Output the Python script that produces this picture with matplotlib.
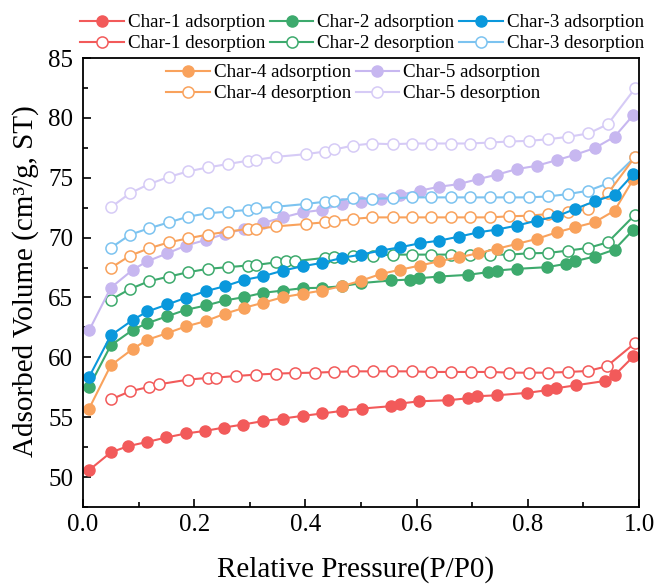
import numpy as np
import matplotlib
matplotlib.use('Agg')
import matplotlib.pyplot as plt
from matplotlib.ticker import MultipleLocator

plt.rcParams['font.family'] = ['Liberation Serif', 'DejaVu Serif']

# Relative pressure for the adsorption branches (Char-3, 4, 5)
x_ads = [0.011, 0.050, 0.090, 0.116, 0.152, 0.185, 0.221, 0.255, 0.290, 0.324,
         0.360, 0.395, 0.430, 0.466, 0.500, 0.536, 0.570, 0.606, 0.641, 0.676,
         0.711, 0.744, 0.780, 0.816, 0.852, 0.885, 0.920, 0.956, 0.990]
# Relative pressure for the desorption branches (Char-3, 4, 5)
x_des = [0.050, 0.085, 0.119, 0.155, 0.189, 0.224, 0.260, 0.296, 0.312, 0.348,
         0.401, 0.435, 0.452, 0.486, 0.519, 0.557, 0.591, 0.626, 0.661, 0.696,
         0.732, 0.767, 0.802, 0.837, 0.873, 0.909, 0.944, 0.993]

# Char-1
x1a = [0.011, 0.050, 0.081, 0.116, 0.150, 0.185, 0.220, 0.254, 0.288, 0.323,
       0.359, 0.395, 0.430, 0.466, 0.501, 0.554, 0.570, 0.605, 0.657, 0.692,
       0.708, 0.744, 0.798, 0.834, 0.851, 0.887, 0.939, 0.956, 0.990]
y1a = [50.58, 52.06, 52.58, 52.94, 53.31, 53.64, 53.86, 54.14, 54.39, 54.67,
       54.89, 55.11, 55.31, 55.53, 55.72, 55.92, 56.14, 56.33, 56.42, 56.58,
       56.75, 56.83, 57.03, 57.25, 57.42, 57.67, 58.03, 58.50, 60.08]
x1d = [0.050, 0.085, 0.119, 0.137, 0.189, 0.224, 0.240, 0.275, 0.312, 0.347,
       0.381, 0.417, 0.451, 0.486, 0.521, 0.556, 0.591, 0.626, 0.662, 0.698,
       0.732, 0.767, 0.802, 0.837, 0.873, 0.908, 0.942, 0.993]
y1d = [56.48, 57.17, 57.53, 57.75, 58.14, 58.28, 58.31, 58.44, 58.56, 58.64,
       58.69, 58.72, 58.78, 58.83, 58.83, 58.83, 58.83, 58.78, 58.78, 58.78,
       58.78, 58.72, 58.72, 58.72, 58.78, 58.86, 59.25, 61.20]

# Char-2
x2a = [0.011, 0.050, 0.090, 0.116, 0.152, 0.185, 0.221, 0.255, 0.290, 0.324,
       0.360, 0.395, 0.430, 0.466, 0.500, 0.554, 0.588, 0.605, 0.641, 0.692,
       0.728, 0.744, 0.780, 0.834, 0.869, 0.885, 0.920, 0.956, 0.990]
y2a = [57.53, 61.00, 62.31, 62.86, 63.44, 63.97, 64.33, 64.75, 65.03, 65.39,
       65.58, 65.78, 65.81, 65.94, 66.20, 66.42, 66.50, 66.61, 66.75, 66.89,
       67.11, 67.25, 67.39, 67.53, 67.81, 68.03, 68.42, 69.00, 70.67]
x2d = [0.050, 0.085, 0.119, 0.155, 0.189, 0.224, 0.260, 0.296, 0.312, 0.348,
       0.366, 0.381, 0.435, 0.452, 0.486, 0.522, 0.557, 0.591, 0.626, 0.661,
       0.696, 0.732, 0.767, 0.802, 0.837, 0.873, 0.909, 0.944, 0.993]
y2d = [64.81, 65.72, 66.36, 66.75, 67.11, 67.39, 67.53, 67.67, 67.72, 67.94,
       68.03, 68.03, 68.31, 68.36, 68.50, 68.50, 68.58, 68.58, 68.58, 68.58,
       68.58, 68.58, 68.58, 68.69, 68.72, 68.92, 69.14, 69.61, 71.92]

# Char-3
y3a = [58.36, 61.83, 63.14, 63.83, 64.42, 64.97, 65.53, 65.94, 66.47, 66.78,
       67.25, 67.61, 67.89, 68.31, 68.58, 68.92, 69.19, 69.53, 69.75, 70.08,
       70.44, 70.67, 71.00, 71.42, 71.78, 72.39, 73.03, 73.58, 75.31]
y3d = [69.14, 70.25, 70.78, 71.28, 71.75, 72.03, 72.17, 72.31, 72.44, 72.58,
       72.81, 73.00, 73.08, 73.28, 73.25, 73.28, 73.36, 73.36, 73.36, 73.36,
       73.36, 73.36, 73.36, 73.44, 73.64, 73.92, 74.53, 76.75]

# Char-4
y4a = [55.72, 59.33, 60.72, 61.47, 62.03, 62.58, 63.03, 63.64, 64.14, 64.56,
       65.03, 65.31, 65.58, 65.95, 66.40, 66.97, 67.31, 67.67, 68.03, 68.36,
       68.69, 69.06, 69.47, 69.89, 70.44, 70.86, 71.28, 72.25, 74.89]
y4d = [67.47, 68.50, 69.11, 69.61, 69.94, 70.25, 70.50, 70.72, 70.72, 70.94,
       71.14, 71.28, 71.36, 71.56, 71.69, 71.69, 71.69, 71.69, 71.69, 71.69,
       71.69, 71.78, 71.83, 71.97, 72.11, 72.39, 73.69, 76.75]

# Char-5
y5a = [62.25, 65.81, 67.33, 68.03, 68.69, 69.33, 69.81, 70.31, 70.72, 71.22,
       71.69, 72.11, 72.31, 72.81, 73.00, 73.22, 73.58, 73.92, 74.25, 74.47,
       74.89, 75.25, 75.72, 76.00, 76.47, 76.92, 77.47, 78.42, 80.25]
y5d = [72.53, 73.72, 74.47, 75.08, 75.53, 75.86, 76.14, 76.42, 76.50, 76.75,
       76.97, 77.19, 77.36, 77.69, 77.86, 77.80, 77.86, 77.86, 77.86, 77.86,
       77.94, 78.03, 78.08, 78.22, 78.42, 78.70, 79.47, 82.47]

fig = plt.figure(figsize=(6.57, 5.86), dpi=100)
ax = fig.add_axes([0.1263, 0.1348, 0.8463, 0.7662])

ms = 8
lw = 1.5

def ads(x, y, c, label):
    l, = ax.plot(x, y, '-o', color=c, lw=lw, ms=ms, mfc=c, mec=c, label=label)
    return l

def des(x, y, c, label):
    l, = ax.plot(x, y, '-o', color=c, lw=lw, ms=ms, mfc='white', mec=c,
                 mew=1.1, label=label)
    return l

red = '#F25A5A'
green = '#3DAA6D'
blue = '#0A98DC'
lblue = '#7CC3F0'
orange = '#F9A25C'
purple = '#C7B7F0'
lpurple = '#D6CBF6'

h1d = des(x1d, y1d, red, 'Char-1 desorption')
h1a = ads(x1a, y1a, red, 'Char-1 adsorption')
h2d = des(x2d, y2d, green, 'Char-2 desorption')
h2a = ads(x2a, y2a, green, 'Char-2 adsorption')
h5d = des(x_des, y5d, lpurple, 'Char-5 desorption')
h5a = ads(x_ads, y5a, purple, 'Char-5 adsorption')
h3d = des(x_des, y3d, lblue, 'Char-3 desorption')
h4d = des(x_des, y4d, orange, 'Char-4 desorption')
h4a = ads(x_ads, y4a, orange, 'Char-4 adsorption')
h3a = ads(x_ads, y3a, blue, 'Char-3 adsorption')

ax.set_xlim(0, 1.0)
ax.set_ylim(47.5, 85)
ax.xaxis.set_major_locator(MultipleLocator(0.2))
ax.xaxis.set_minor_locator(MultipleLocator(0.1))
ax.yaxis.set_major_locator(MultipleLocator(5))
ax.yaxis.set_minor_locator(MultipleLocator(2.5))
ax.set_xticks([0, 0.2, 0.4, 0.6, 0.8, 1.0])
ax.set_xticklabels(['0.0', '0.2', '0.4', '0.6', '0.8', '1.0'])
ax.tick_params(which='both', direction='in', labelsize=18, width=1.2)
ax.tick_params(which='major', length=6)
ax.tick_params(which='minor', length=3.5)
ax.tick_params(axis='x', pad=5)
ax.tick_params(axis='y', pad=7)
for s in ax.spines.values():
    s.set_linewidth(1.3)

fig.text(356 / 657, 1 - 570 / 586, 'Relative Pressure(P/P0)', fontsize=21,
         ha='center', va='center')
fig.text(26 / 657, 1 - 281 / 586, 'Adsorbed Volume (cm³/g, ST)', fontsize=21,
         rotation=90, ha='center', va='center')

leg_kw = dict(frameon=False, fontsize=13.7, handlelength=2.3,
              handletextpad=0.2, columnspacing=0.25, labelspacing=0.2,
              borderpad=0, borderaxespad=0)
leg1 = fig.legend([h1a, h1d, h2a, h2d, h3a, h3d],
                  [h.get_label() for h in [h1a, h1d, h2a, h2d, h3a, h3d]],
                  ncol=3, loc='upper left',
                  bbox_to_anchor=(80 / 657, 1 - 14 / 586), **leg_kw)
leg2 = ax.legend([h4a, h4d, h5a, h5d],
                 [h.get_label() for h in [h4a, h4d, h5a, h5d]],
                 ncol=2, loc='upper left',
                 bbox_to_anchor=(166 / 657, 1 - 64 / 586),
                 bbox_transform=fig.transFigure, **leg_kw)

fig.savefig('out.png', dpi=100)
